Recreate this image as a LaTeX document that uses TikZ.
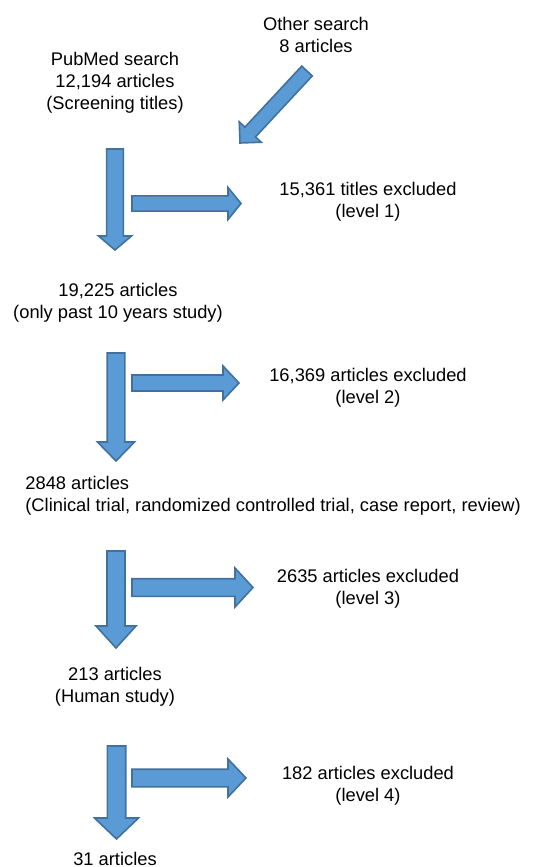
\documentclass[tikz,border=0pt]{standalone}
\usepackage{fontspec}
\setmainfont{Liberation Sans}
\usetikzlibrary{calc}
\definecolor{arrowfill}{HTML}{5B9BD5}
\definecolor{arrowline}{HTML}{41719C}
\tikzset{
  txt/.style={align=center, inner sep=0pt, font=\fontsize{9.15}{11}\selectfont},
  blockarr/.style={fill=arrowfill, draw=arrowline, line width=0.8pt, line join=miter}
}
% block arrow: shaft half width, head half width, head length, from, to
\newcommand{\blockarrow}[5]{%
  \coordinate (hb) at ($(#5)!#3!(#4)$);
  \draw[blockarr] ($(#4)!#1!90:(#5)$) -- ($(hb)!#1!90:(#5)$) -- ($(hb)!#2!90:(#5)$)
    -- (#5) -- ($(hb)!#2!-90:(#5)$) -- ($(hb)!#1!-90:(#5)$) -- ($(#4)!#1!-90:(#5)$) -- cycle;
}
\begin{document}
\begin{tikzpicture}[x=0.5pt,y=-0.5pt]
   \useasboundingbox (0,0) rectangle (532,867);
   % texte
   \node[txt] (other) at (316,35) {Other search\\8 articles};
   \node[txt] (pubmed) at (115,83) {PubMed search\\12,194 articles\\(Screening titles)};
   \node[txt] (excl1) at (368,201.5) {15,361 titles excluded\\(level 1)};
   \node[txt] (years) at (118,302.5) {19,225 articles\\(only past 10 years study)};
   \node[txt] (excl2) at (368,388) {16,369 articles excluded\\(level 2)};
   \node[txt,anchor=west,align=left] (types) at (25,496) {2848 articles\\(Clinical trial, randomized controlled trial, case report, review)};
   \node[txt] (excl3) at (368,589) {2635 articles excluded\\(level 3)};
   \node[txt] (human) at (115,686.5) {213 articles\\(Human study)};
   \node[txt] (excl4) at (368,785.5) {182 articles excluded\\(level 4)};
   \node[txt] (final) at (115,859) {31 articles};
   % pfeile
   \coordinate (o1) at (307,71);    \coordinate (o2) at (240,143);
   \coordinate (d1a) at (115,149);  \coordinate (d1b) at (115,250);
   \coordinate (r1a) at (132,203.5);\coordinate (r1b) at (241,203.5);
   \coordinate (d2a) at (116,353);  \coordinate (d2b) at (116,461);
   \coordinate (r2a) at (132,383);  \coordinate (r2b) at (239,383);
   \coordinate (d3a) at (116,551);  \coordinate (d3b) at (116,648);
   \coordinate (r3a) at (132,587.5);\coordinate (r3b) at (253,587.5);
   \coordinate (d4a) at (116.5,746);\coordinate (d4b) at (116.5,839);
   \coordinate (r4a) at (132,778);  \coordinate (r4b) at (246,778);
   \blockarrow{3.6pt}{7.5pt}{7.5pt}{o1}{o2}
   \blockarrow{4.2pt}{8.25pt}{7pt}{d1a}{d1b}
   \blockarrow{3.8pt}{8pt}{6.5pt}{r1a}{r1b}
   \blockarrow{4.4pt}{9.25pt}{9.5pt}{d2a}{d2b}
   \blockarrow{4pt}{8.5pt}{8pt}{r2a}{r2b}
   \blockarrow{4.5pt}{10pt}{11pt}{d3a}{d3b}
   \blockarrow{4.4pt}{9.75pt}{9pt}{r3a}{r3b}
   \blockarrow{4.6pt}{11pt}{10.5pt}{d4a}{d4b}
   \blockarrow{4.4pt}{9.5pt}{9pt}{r4a}{r4b}
\end{tikzpicture}
\end{document}
